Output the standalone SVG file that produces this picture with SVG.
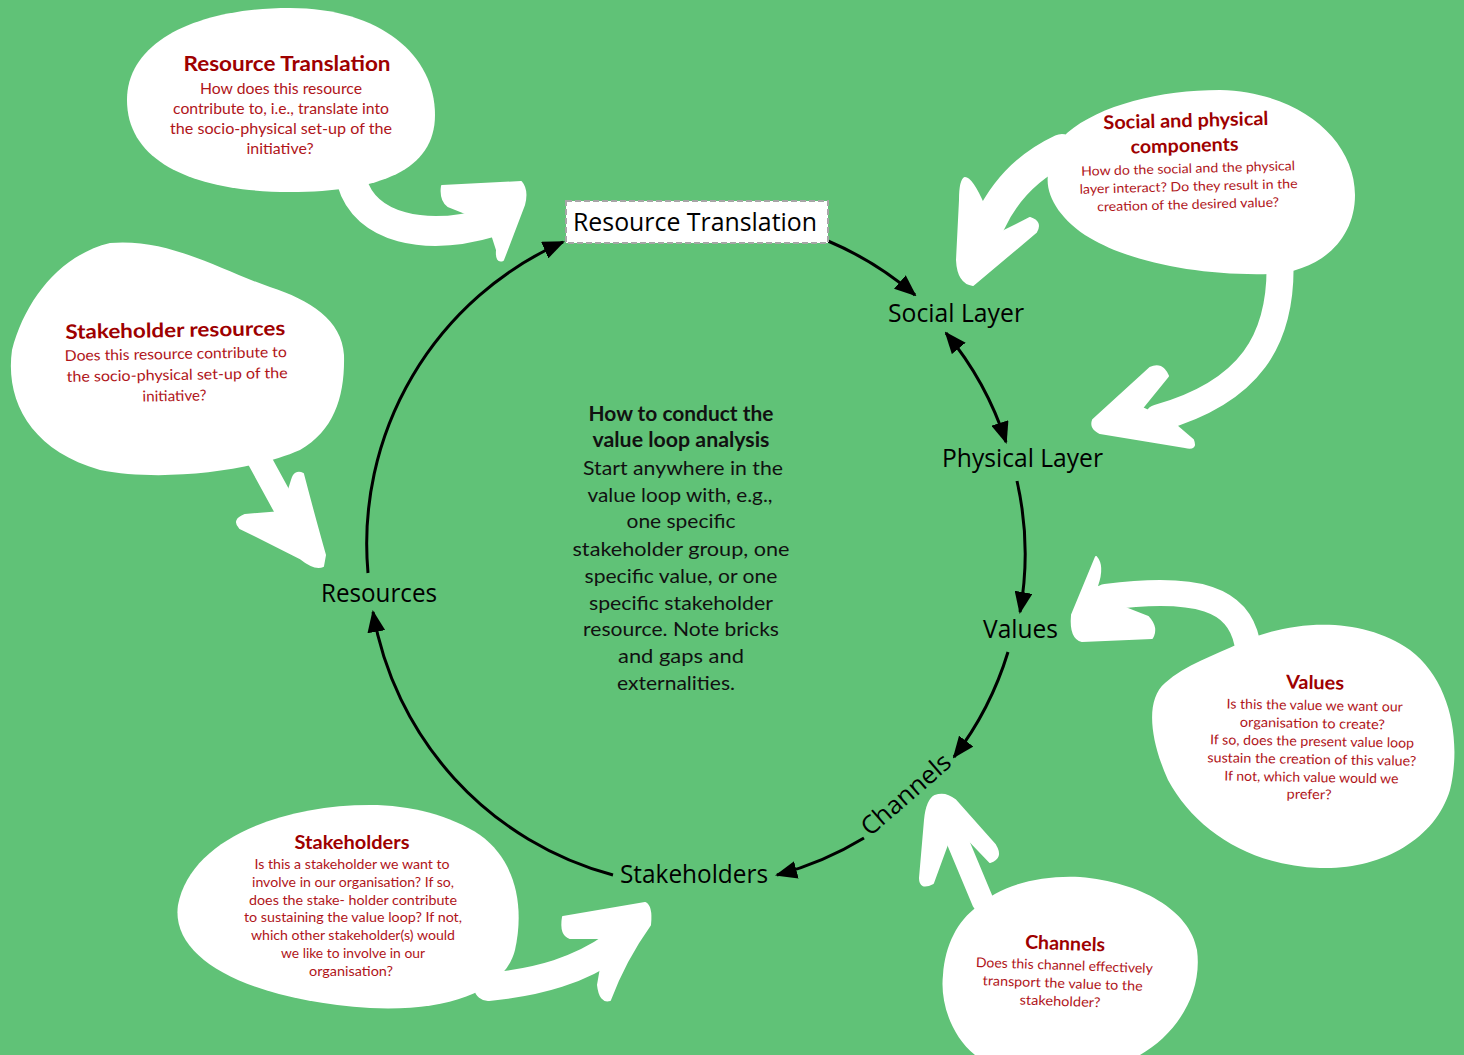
<svg xmlns="http://www.w3.org/2000/svg" width="1464" height="1055" viewBox="0 0 1464 1055">
  <style>
    .bg { fill: #60c277; }
    .blob { fill: #ffffff; }
    .tail { fill: none; stroke: #ffffff; stroke-linecap: round; stroke-linejoin: round; }
    .head { fill: #ffffff; stroke: #ffffff; stroke-width: 2; stroke-linejoin: round; }
    .ttl { font-family: Lato, "Open Sans", sans-serif; font-weight: 700; font-size: 20px; fill: #9e0000; text-anchor: middle; }
    .q { font-family: Lato, "Open Sans", sans-serif; font-size: 14px; fill: #b0151a; text-anchor: middle; }
    .lbl { font-family: "Open Sans", "Noto Sans", sans-serif; font-size: 25px; fill: #000000; }
    .mid { font-family: Lato, "Open Sans", sans-serif; font-size: 20px; fill: #111111; text-anchor: middle; }
    .midb { font-weight: 700; }
    .link { fill: none; stroke: #000000; stroke-width: 3; }
  </style>
  <defs>
    <marker id="arrow" viewBox="0 0 22 18" refX="20" refY="9" markerWidth="22" markerHeight="18" markerUnits="userSpaceOnUse" orient="auto-start-reverse">
      <path d="M0,0 L22,9 L0,18 Z" fill="#000000"/>
    </marker>
  </defs>

  <rect class="bg" x="0" y="0" width="1464" height="1055"/>

  <!-- Loop connectors -->
  <g id="connectors">
    <path class="link" d="M368,573 A330,330 0 0 1 563,242" marker-end="url(#arrow)"/>
    <path class="link" d="M828,241 A330,330 0 0 1 915,295" marker-end="url(#arrow)"/>
    <path class="link" d="M946,333 A330,330 0 0 1 1006,442" marker-start="url(#arrow)" marker-end="url(#arrow)"/>
    <path class="link" d="M1017,481 A330,330 0 0 1 1020,612" marker-end="url(#arrow)"/>
    <path class="link" d="M1008,652 A330,330 0 0 1 954,757" marker-end="url(#arrow)"/>
    <path class="link" d="M864,838 A330,330 0 0 1 777,875" marker-end="url(#arrow)"/>
    <path class="link" d="M613,875 A330,330 0 0 1 373,612" marker-end="url(#arrow)"/>
  </g>

  <!-- Loop stages -->
  <g id="node-resource-translation">
    <rect x="566" y="201" width="262" height="42" fill="#ffffff" stroke="#a6a6a6" stroke-width="2" stroke-dasharray="6 3"/>
    <text class="lbl" x="573" y="231" textLength="244" lengthAdjust="spacingAndGlyphs">Resource Translation</text>
  </g>
  <g id="node-social-layer">
    <text class="lbl" x="888" y="322" textLength="136" lengthAdjust="spacingAndGlyphs">Social Layer</text>
  </g>
  <g id="node-physical-layer">
    <text class="lbl" x="942" y="467" textLength="161" lengthAdjust="spacingAndGlyphs">Physical Layer</text>
  </g>
  <g id="node-values">
    <text class="lbl" x="983" y="638" textLength="75" lengthAdjust="spacingAndGlyphs">Values</text>
  </g>
  <g id="node-channels">
    <text class="lbl" x="870" y="837" textLength="110" lengthAdjust="spacingAndGlyphs" transform="rotate(-41 870 837)">Channels</text>
  </g>
  <g id="node-stakeholders">
    <text class="lbl" x="620" y="883" textLength="148" lengthAdjust="spacingAndGlyphs">Stakeholders</text>
  </g>
  <g id="node-resources">
    <text class="lbl" x="321" y="602" textLength="116" lengthAdjust="spacingAndGlyphs">Resources</text>
  </g>

  <!-- Instructions in the middle of the loop -->
  <g id="node-instructions">
    <text class="mid midb" x="681" y="421" textLength="185" lengthAdjust="spacingAndGlyphs">How to conduct the</text>
    <text class="mid midb" x="681" y="447" textLength="177" lengthAdjust="spacingAndGlyphs">value loop analysis</text>
    <text class="mid" x="683" y="475" textLength="200" lengthAdjust="spacingAndGlyphs">Start anywhere in the</text>
    <text class="mid" x="680" y="502" textLength="185" lengthAdjust="spacingAndGlyphs">value loop with, e.g.,</text>
    <text class="mid" x="681" y="528" textLength="109" lengthAdjust="spacingAndGlyphs">one specific</text>
    <text class="mid" x="681" y="556" textLength="217" lengthAdjust="spacingAndGlyphs">stakeholder group, one</text>
    <text class="mid" x="681" y="583" textLength="193" lengthAdjust="spacingAndGlyphs">specific value, or one</text>
    <text class="mid" x="681" y="610" textLength="184" lengthAdjust="spacingAndGlyphs">specific stakeholder</text>
    <text class="mid" x="681" y="636" textLength="196" lengthAdjust="spacingAndGlyphs">resource. Note bricks</text>
    <text class="mid" x="681" y="663" textLength="126" lengthAdjust="spacingAndGlyphs">and gaps and</text>
    <text class="mid" x="676" y="690" textLength="118" lengthAdjust="spacingAndGlyphs">externalities.</text>
  </g>

  <!-- Question bubble: resource translation -->
  <g id="bubble-resource-translation">
    <path class="tail" stroke-width="30" d="M352,182 C365,228 425,242 492,222"/>
    <path class="head" d="M442,186 L521,182 Q528,190 524,205 L503,260 Q496,263 497,250 L488,222 L448,206 Q440,200 442,186 Z"/>
    <path class="blob" d="M127,100 C127,40 200,8 290,8 C380,8 435,55 435,115 C435,170 380,192 290,192 C200,192 127,165 127,100 Z"/>
    <text class="ttl" x="287" y="71" textLength="207" lengthAdjust="spacingAndGlyphs">Resource Translation</text>
    <text class="q" style="font-size:15px" x="281" y="94" textLength="162" lengthAdjust="spacingAndGlyphs">How does this resource</text>
    <text class="q" style="font-size:15px" x="281" y="114" textLength="216" lengthAdjust="spacingAndGlyphs">contribute to, i.e., translate into</text>
    <text class="q" style="font-size:15px" x="281" y="134" textLength="222" lengthAdjust="spacingAndGlyphs">the socio-physical set-up of the</text>
    <text class="q" style="font-size:15px" x="280" y="154" textLength="67" lengthAdjust="spacingAndGlyphs">initiative?</text>
  </g>

  <!-- Question bubble: social and physical components -->
  <g id="bubble-social-physical">
    <path class="tail" stroke-width="32" d="M1062,150 C1030,165 1005,190 990,222"/>
    <path class="head" d="M965,178 Q972,178 984,206 L994,236 L1030,218 Q1042,222 1036,232 L973,285 Q958,283 957,260 L960,200 Q960,180 965,178 Z"/>
    <path class="tail" stroke-width="27" d="M1280,262 C1282,340 1250,392 1158,418"/>
    <path class="head" d="M1093,420 L1150,368 Q1162,362 1168,376 L1142,408 L1172,422 L1193,440 Q1197,450 1185,447 L1100,433 Q1090,428 1093,420 Z"/>
    <path class="blob" d="M1067,133 C1100,105 1160,90 1220,90 C1300,92 1355,140 1355,195 C1355,240 1320,272 1270,274 C1200,276 1130,262 1090,238 C1060,220 1045,195 1048,175 C1050,160 1056,145 1067,133 Z"/>
    <g transform="rotate(-1.5 1187 165)">
      <text class="ttl" style="font-size:19px" x="1187" y="127" textLength="165" lengthAdjust="spacingAndGlyphs">Social and physical</text>
      <text class="ttl" style="font-size:19px" x="1185" y="152" textLength="108" lengthAdjust="spacingAndGlyphs">components</text>
      <text class="q" style="font-size:13px" x="1188" y="173" textLength="214" lengthAdjust="spacingAndGlyphs">How do the social and the physical</text>
      <text class="q" style="font-size:13px" x="1188" y="191" textLength="218" lengthAdjust="spacingAndGlyphs">layer interact? Do they result in the</text>
      <text class="q" style="font-size:13px" x="1187" y="209" textLength="182" lengthAdjust="spacingAndGlyphs">creation of the desired value?</text>
    </g>
  </g>

  <!-- Question bubble: stakeholder resources -->
  <g id="bubble-stakeholder-resources">
    <path class="tail" stroke-width="24" d="M255,452 L296,527"/>
    <path class="head" d="M323,566 Q315,570 300,558 L240,528 Q232,520 245,515 L282,512 L292,480 Q295,470 303,474 Q315,520 325,555 Z"/>
    <path class="blob" d="M110,243 C60,255 25,300 12,350 C5,400 30,450 100,470 C160,482 250,472 300,450 C335,430 345,395 344,355 C342,320 310,300 270,287 C220,270 170,238 110,243 Z"/>
    <g transform="rotate(-1 176 370)">
      <text class="ttl" x="176" y="337" textLength="220" lengthAdjust="spacingAndGlyphs">Stakeholder resources</text>
      <text class="q" style="font-size:15px" x="176" y="359" textLength="222" lengthAdjust="spacingAndGlyphs">Does this resource contribute to</text>
      <text class="q" style="font-size:15px" x="177" y="380" textLength="221" lengthAdjust="spacingAndGlyphs">the socio-physical set-up of the</text>
      <text class="q" style="font-size:15px" x="174" y="401" textLength="64" lengthAdjust="spacingAndGlyphs">initiative?</text>
    </g>
  </g>

  <!-- Question bubble: values -->
  <g id="bubble-values">
    <path class="tail" stroke-width="26" d="M1247,642 C1238,600 1200,585 1106,597"/>
    <path class="head" d="M1096,557 Q1104,566 1097,586 L1120,606 L1148,617 Q1158,628 1152,638 L1082,641 Q1070,638 1072,615 Z"/>
    <path class="blob" d="M1240,643 C1290,620 1360,615 1410,650 C1450,680 1462,740 1450,790 C1435,840 1380,870 1320,868 C1250,866 1195,830 1168,780 C1150,740 1145,700 1165,683 C1185,665 1215,655 1240,643 Z"/>
    <g transform="rotate(1 1313 745)">
      <text class="ttl" style="font-size:19px" x="1314" y="689" textLength="58" lengthAdjust="spacingAndGlyphs">Values</text>
      <text class="q" style="font-size:13.5px" x="1314" y="710" textLength="176" lengthAdjust="spacingAndGlyphs">Is this the value we want our</text>
      <text class="q" style="font-size:13.5px" x="1312" y="728" textLength="145" lengthAdjust="spacingAndGlyphs">organisation to create?</text>
      <text class="q" style="font-size:13.5px" x="1312" y="746" textLength="204" lengthAdjust="spacingAndGlyphs">If so, does the present value loop</text>
      <text class="q" style="font-size:13.5px" x="1312" y="764" textLength="209" lengthAdjust="spacingAndGlyphs">sustain the creation of this value?</text>
      <text class="q" style="font-size:13.5px" x="1312" y="782" textLength="174" lengthAdjust="spacingAndGlyphs">If not, which value would we</text>
      <text class="q" style="font-size:13.5px" x="1310" y="799" textLength="45" lengthAdjust="spacingAndGlyphs">prefer?</text>
    </g>
  </g>

  <!-- Question bubble: stakeholders -->
  <g id="bubble-stakeholders">
    <path class="tail" stroke-width="28" d="M488,987 C540,982 580,970 615,945"/>
    <path class="head" d="M563,917 L645,903 Q652,906 650,925 Q625,960 610,1000 Q600,1003 598,985 L605,945 L604,938 L570,938 Q560,935 563,917 Z"/>
    <path class="blob" d="M370,805 C280,805 190,840 178,905 C170,960 250,1000 370,1008 C450,1012 505,990 515,950 C525,905 515,860 480,835 C450,815 410,805 370,805 Z"/>
    <text class="ttl" style="font-size:19px" x="352" y="849" textLength="115" lengthAdjust="spacingAndGlyphs">Stakeholders</text>
    <text class="q" style="font-size:13.5px" x="352" y="869" textLength="195" lengthAdjust="spacingAndGlyphs">Is this a stakeholder we want to</text>
    <text class="q" style="font-size:13.5px" x="353" y="887" textLength="202" lengthAdjust="spacingAndGlyphs">involve in our organisation? If so,</text>
    <text class="q" style="font-size:13.5px" x="353" y="905" textLength="208" lengthAdjust="spacingAndGlyphs">does the stake- holder contribute</text>
    <text class="q" style="font-size:13.5px" x="353" y="922" textLength="218" lengthAdjust="spacingAndGlyphs">to sustaining the value loop? If not,</text>
    <text class="q" style="font-size:13.5px" x="353" y="940" textLength="204" lengthAdjust="spacingAndGlyphs">which other stakeholder(s) would</text>
    <text class="q" style="font-size:13.5px" x="353" y="958" textLength="144" lengthAdjust="spacingAndGlyphs">we like to involve in our</text>
    <text class="q" style="font-size:13.5px" x="351" y="976" textLength="84" lengthAdjust="spacingAndGlyphs">organisation?</text>
  </g>

  <!-- Question bubble: channels -->
  <g id="bubble-channels">
    <path class="tail" stroke-width="22" d="M983,902 L955,835"/>
    <path class="head" d="M935,796 Q945,792 955,800 L995,845 Q1003,858 990,862 L967,838 L948,842 L933,883 Q920,890 920,878 L925,820 Q927,800 935,796 Z"/>
    <path class="blob" d="M977,907 C1000,885 1040,875 1080,877 C1140,882 1190,910 1197,950 C1203,995 1175,1035 1140,1055 L975,1055 C950,1035 940,1000 943,975 C945,945 958,920 977,907 Z"/>
    <g transform="rotate(2 1064 975)">
      <text class="ttl" style="font-size:19px" x="1064" y="950" textLength="80" lengthAdjust="spacingAndGlyphs">Channels</text>
      <text class="q" style="font-size:13.5px" x="1064" y="970" textLength="177" lengthAdjust="spacingAndGlyphs">Does this channel effectively</text>
      <text class="q" style="font-size:13.5px" x="1063" y="988" textLength="160" lengthAdjust="spacingAndGlyphs">transport the value to the</text>
      <text class="q" style="font-size:13.5px" x="1061" y="1006" textLength="81" lengthAdjust="spacingAndGlyphs">stakeholder?</text>
    </g>
  </g>
</svg>
